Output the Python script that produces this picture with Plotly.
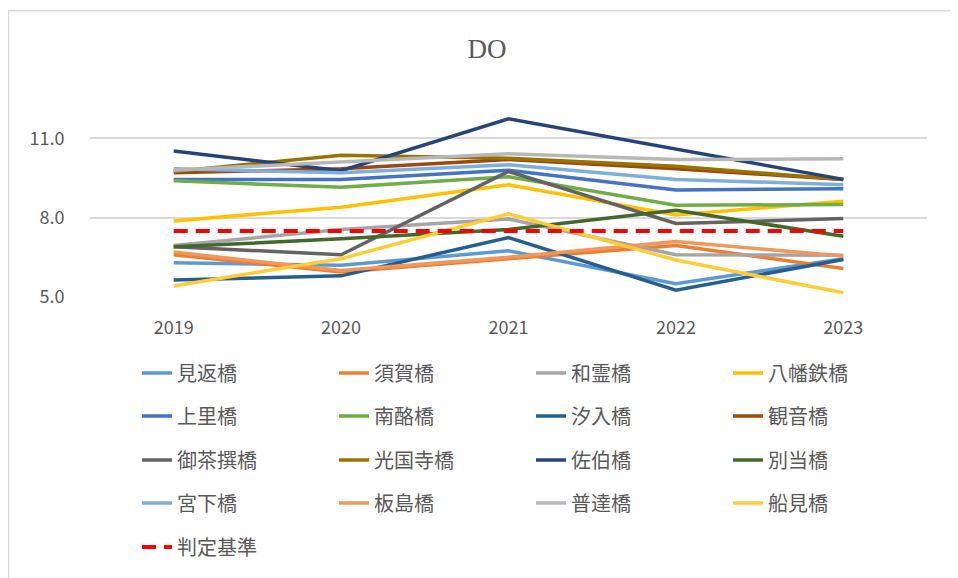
import plotly.graph_objects as go

years = ["2019", "2020", "2021", "2022", "2023"]

names = [
    "見返橋", "須賀橋", "和霊橋", "八幡鉄橋",
    "上里橋", "南酪橋", "汐入橋", "観音橋",
    "御茶撰橋", "光国寺橋", "佐伯橋", "別当橋",
    "宮下橋", "板島橋", "普達橋", "船見橋",
]

mikaeri = [6.30, 6.20, 6.75, 5.50, 6.45]
suga = [6.60, 5.95, 6.45, 6.95, 6.08]
warei = [6.95, 7.55, 7.95, 6.60, 6.58]
yawata = [7.88, 8.40, 9.25, 8.10, 8.62]
kamisato = [9.45, 9.45, 9.80, 9.05, 9.10]
nanraku = [9.40, 9.15, 9.55, 8.47, 8.50]
shioiri = [5.64, 5.80, 7.25, 5.26, 6.42]
kannon = [9.70, 9.85, 10.20, 9.85, 9.45]
ochasen = [6.90, 6.60, 9.75, 7.78, 7.97]
kokokuji = [9.75, 10.36, 10.25, 9.95, 9.45]
saiki = [10.52, 9.78, 11.74, 10.60, 9.45]
betto = [6.90, 7.20, 7.55, 8.28, 7.30]
miyashita = [9.85, 9.70, 10.00, 9.45, 9.25]
itajima = [6.70, 6.00, 6.50, 7.10, 6.55]
futatsu = [9.80, 10.10, 10.42, 10.20, 10.23]
funami = [5.42, 6.45, 8.15, 6.40, 5.16]

criterion = [7.5, 7.5, 7.5, 7.5, 7.5]

series = [
    mikaeri, suga, warei, yawata,
    kamisato, nanraku, shioiri, kannon,
    ochasen, kokokuji, saiki, betto,
    miyashita, itajima, futatsu, funami,
]

# Excel default palette (16 series)
colors = [
    "#5B9BD5", "#ED7D31", "#A5A5A5", "#FFC000",
    "#4472C4", "#70AD47", "#255E91", "#9E480E",
    "#636363", "#997300", "#264478", "#43682B",
    "#7CAFDD", "#F1975A", "#B7B7B7", "#FFCD33",
]

legend_ids = ["legend", "legend2", "legend3", "legend4", "legend5"]

fig = go.Figure()

for i, (name, vals, color) in enumerate(zip(names, series, colors)):
    fig.add_trace(go.Scatter(
        x=years,
        y=vals,
        mode="lines",
        name=name,
        line={"color": color, "width": 3.5},
        legend=legend_ids[i // 4],
    ))

fig.add_trace(go.Scatter(
    x=years,
    y=criterion,
    mode="lines",
    name="判定基準",
    line={"color": "#FF0000", "width": 4, "dash": "14px,8px"},
    legend="legend5",
))

# page body adds an 8px offset, so figure coords are shifted up/left by 8
W, H = 958, 578
L, T, B, R = 82, 103.5, 289, 919
row_y = [365, 408, 452, 495, 539]
legend_font = {"family": "Noto Sans CJK JP", "size": 20, "color": "#595959"}

legends = {}
for lid, ry in zip(legend_ids, row_y):
    legends[lid] = {
        "orientation": "h",
        "xref": "container", "yref": "container",
        "x": 129 / W, "y": 1 - ry / H,
        "xanchor": "left", "yanchor": "middle",
        "entrywidth": 152, "entrywidthmode": "pixels",
        "font": legend_font,
        "bgcolor": "rgba(0,0,0,0)",
        "traceorder": "normal",
    }

fig.update_layout(
    width=W, height=H,
    title={
        "text": "DO",
        "x": 479 / W, "xanchor": "center",
        "y": 1 - 41 / H, "yanchor": "middle",
        "font": {"family": "Liberation Serif", "size": 27, "color": "#595959"},
    },
    plot_bgcolor="white",
    paper_bgcolor="white",
    margin={"l": L, "r": W - R, "t": T, "b": H - B},
    showlegend=True,
    **legends,
)

fig.update_xaxes(
    type="category",
    range=[-0.5, 4.5],
    showgrid=False,
    showline=False,
    zeroline=False,
    ticks="outside", ticklen=14, tickcolor="rgba(0,0,0,0)",
    tickfont={"family": "Noto Sans CJK JP", "size": 18, "color": "#595959"},
)

fig.update_yaxes(
    range=[5, 12],
    tickvals=[5, 8, 11],
    tickformat=".1f",
    showgrid=True, gridcolor="#D9D9D9", gridwidth=1.5,
    zeroline=False,
    showline=False,
    ticks="outside", ticklen=21, tickcolor="rgba(0,0,0,0)",
    tickfont={"family": "Noto Sans CJK JP", "size": 18, "color": "#595959"},
)

# chart area border
pw, ph = R - L, B - T
fig.add_shape(
    type="rect", xref="paper", yref="paper",
    x0=(0.5 - L) / pw, x1=(W - 4 - L) / pw,
    y0=(B - (H - 1)) / ph, y1=(B - 2) / ph,
    line={"color": "#D9D9D9", "width": 1.5},
    layer="below",
)

fig.write_html("out.html")
